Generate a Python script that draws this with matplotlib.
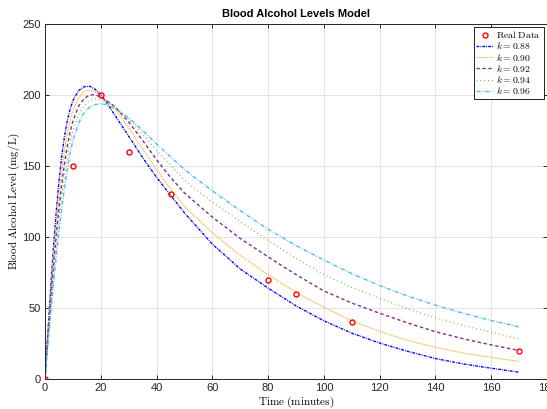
import numpy as np
import matplotlib
matplotlib.use("Agg")
import matplotlib.pyplot as plt

plt.rcParams['mathtext.fontset'] = 'cm'
plt.rcParams['font.family'] = ['Liberation Sans', 'DejaVu Sans']

# measured data
t_data = [0, 10, 20, 30, 45, 80, 90, 110, 170]
bac_data = [0, 150, 200, 160, 130, 70, 60, 40, 20]

# model curves
t_model = [0, 1, 2, 3, 4, 5, 6, 7, 8, 9, 10, 12, 14, 16, 18, 20, 22, 25, 30, 35,
           40, 45, 50, 60, 70, 80, 90, 100, 110, 120, 130, 140, 150, 160, 170]
k088 = [0, 32, 63, 92, 117, 139, 157, 171, 182, 190, 196, 203, 205.8, 206.2, 204, 200,
        195, 186, 171, 156, 142, 129.5, 117, 95, 77.5, 64, 51.5, 41, 32.3, 25.3, 19.5,
        14.4, 10.6, 7.6, 4.8]
k090 = [0, 30, 58.5, 85, 108, 129, 147, 161, 173, 182, 189, 198, 202.3, 203.5, 202.3, 199.3,
        196.5, 191, 177, 162, 147.5, 134, 121.5, 103, 87, 73.5, 61, 50.5, 41, 33.5, 27.2,
        22.2, 18.3, 15.2, 12.4]
k092 = [0, 27.5, 54, 78.5, 100.5, 120, 137, 152, 164, 174, 181.5, 192, 197.5, 200, 200.2, 198.5,
        196, 192, 181, 168, 154.5, 142, 131, 114, 99, 86, 73.5, 62, 53.5, 46.3, 39.5,
        33.3, 28.3, 24, 20.1]
k094 = [0, 25, 49.5, 72, 93, 112, 128.5, 143, 156, 166.5, 175, 186, 192.5, 196, 197.2, 196.3,
        195, 192, 183, 172.5, 161, 150.5, 140, 124.5, 110.8, 97.5, 85, 73.5, 64.5, 56.8, 49.5,
        43, 37.7, 33, 28.2]
k096 = [0, 23, 45, 66, 86, 104, 120, 135, 148, 159, 168, 180, 187.5, 191.5, 193.3, 193.8,
        193.3, 190.5, 184, 175, 165.5, 156.5, 147.5, 132.5, 118.5, 105.5, 94, 83.8, 74.2, 65.8, 58.4,
        52, 46.3, 41.2, 36.7]

fig = plt.figure(figsize=(5.47, 4.09), dpi=100)
ax = fig.add_axes([45/547, 30/409, 502/547, 355/409])

ax.plot(t_data, bac_data, 'o', color='red', mfc='none', ms=3.6, mew=1.0,
        label=r'$\mathrm{Real\ Data}$', zorder=5)
ax.plot(t_model, k088, color=(0, 0, 1), lw=1.0, dashes=(2, 0.8, 0.6, 0.8), label=r'$k = 0.88$')
ax.plot(t_model, k090, color=(0.929, 0.694, 0.125), lw=0.8, dashes=(1, 0.8), label=r'$k = 0.90$')
ax.plot(t_model, k092, color=(0.494, 0.184, 0.556), lw=1.0, dashes=(2.4, 1.9), label=r'$k = 0.92$')
ax.plot(t_model, k094, color=(0.466, 0.674, 0.188), lw=0.9, dashes=(0.7, 2.4), label=r'$k = 0.94$')
ax.plot(t_model, k096, color=(0.301, 0.745, 0.933), lw=1.0, dashes=(3, 1.2, 0.6, 1.2), label=r'$k = 0.96$')

ax.set_xlim(0, 180)
ax.set_ylim(0, 250)
ax.set_xticks(np.arange(0, 181, 20))
ax.set_yticks(np.arange(0, 251, 50))
ax.grid(True, color='#e3e3e3', lw=0.7)
ax.set_axisbelow(True)
for s in ax.spines.values():
    s.set_color('#262626')
    s.set_linewidth(0.7)
ax.tick_params(direction='in', length=3, width=0.7, colors='#262626', labelsize=8, pad=3,
               top=True, right=True)

ax.set_title('Blood Alcohol Levels Model', fontsize=8, fontweight='bold', pad=5)
ax.set_xlabel(r'$\mathrm{Time\ (minutes)}$', fontsize=8, labelpad=1)
ax.set_ylabel(r'$\mathrm{Blood\ Alcohol\ Level\ (mg/L)}$', fontsize=8, labelpad=0)

leg = ax.legend(loc='upper right', bbox_to_anchor=(0.995, 0.995), fontsize=7,
                frameon=True, fancybox=False, edgecolor='black', framealpha=1,
                handlelength=1.8, handletextpad=0.3, labelspacing=0.02,
                borderpad=0.25, borderaxespad=0.1)
leg.get_frame().set_linewidth(0.6)

fig.savefig('out.png', dpi=100)
